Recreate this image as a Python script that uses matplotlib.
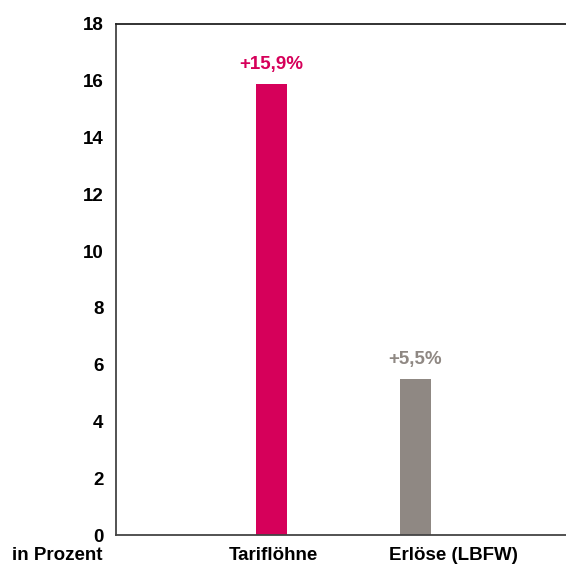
import matplotlib
matplotlib.use("Agg")
import matplotlib.pyplot as plt

categories = ["Tariflöhne", "Erlöse (LBFW)"]
values = [15.9, 5.5]
value_labels = ["+15,9%", "+5,5%"]
bar_colors = ["#D6005A", "#8F8883"]
y_ticks = [0, 2, 4, 6, 8, 10, 12, 14, 16, 18]
unit_label = "in Prozent"

plt.rcParams["font.family"] = ["Liberation Sans", "DejaVu Sans"]
plt.rcParams["font.weight"] = "bold"
FS = 13.5

W, H = 566, 565
fig = plt.figure(figsize=(W / 100, H / 100), dpi=100)
ax = fig.add_axes([116 / W, 30 / H, (W - 116) / W, 511 / H])

x = [0, 1]
ax.bar(x, values, width=0.215, color=bar_colors, zorder=2)
ax.set_xlim(-1.08, 2.045)
ax.set_ylim(0, 18)

for xi, v, lab, c in zip(x, values, value_labels, bar_colors):
    ax.annotate(lab, (xi, v), xytext=(0, 7.5), textcoords="offset points",
                ha="center", va="bottom", color=c, fontsize=FS, fontweight="bold")

ax.set_yticks(y_ticks)
ax.set_yticklabels([str(t) for t in y_ticks], fontsize=FS, fontweight="bold")
ax.tick_params(axis="y", length=0, pad=9)

# category captions sit on their own slots below the bars
caption_pos = [0.01, 1.26]
ax.set_xticks(caption_pos)
ax.set_xticklabels(categories, fontsize=FS, fontweight="bold")
ax.tick_params(axis="x", length=0, pad=8.5)

ax.spines["right"].set_visible(False)
for s in ["left", "bottom"]:
    ax.spines[s].set_color("#444444")
    ax.spines[s].set_linewidth(1.3)
ax.spines["top"].set_color("#222222")
ax.spines["top"].set_linewidth(1.3)

fig.text(103 / W, 1 - 555 / H, unit_label, ha="right", va="center",
         fontsize=FS, fontweight="bold")

fig.savefig("out.png", dpi=100, facecolor="white")
